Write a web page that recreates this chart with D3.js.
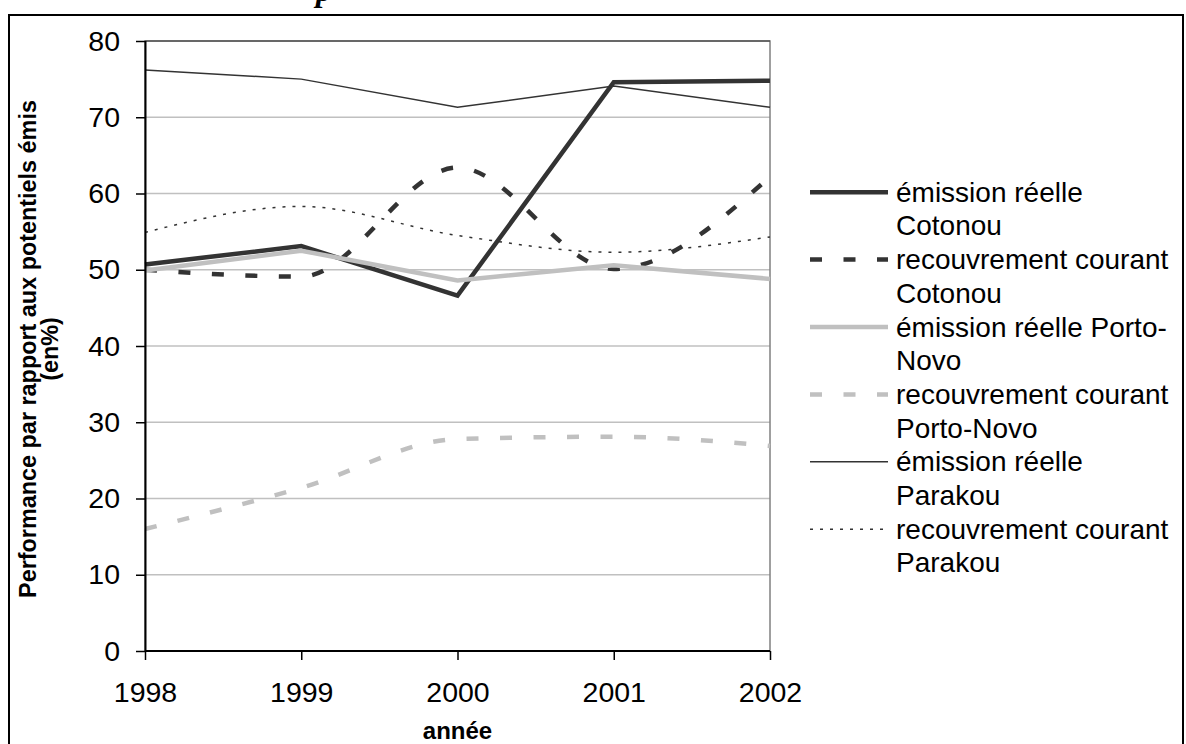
<!DOCTYPE html>
<html>
<head>
<meta charset="utf-8">
<script src="https://cdn.jsdelivr.net/npm/d3@7"></script>
<style>
  html, body { margin: 0; padding: 0; background: #fff; }
  svg { display: block; }
</style>
</head>
<body>
<svg id="chart" width="1186" height="744"></svg>
<script>
// ---- data ----
const years = [1998, 1999, 2000, 2001, 2002];
const cotonouEmission      = [50.7, 53.1, 46.6, 74.6, 74.8];
const cotonouRecouvrement  = [50.0, 49.1, 63.4, 50.1, 62.2];
const portoNovoEmission    = [49.9, 52.5, 48.6, 50.6, 48.8];
const portoNovoRecouvrement= [16.0, 21.4, 27.8, 28.1, 26.9];
const parakouEmission      = [76.2, 75.0, 71.3, 74.1, 71.3];
const parakouRecouvrement  = [54.9, 58.3, 54.5, 52.3, 54.3];
const yTicks = [0, 10, 20, 30, 40, 50, 60, 70, 80];
const legendLabels = [
  ["émission réelle", "Cotonou"],
  ["recouvrement courant", "Cotonou"],
  ["émission réelle Porto-", "Novo"],
  ["recouvrement courant", "Porto-Novo"],
  ["émission réelle", "Parakou"],
  ["recouvrement courant", "Parakou"]
];
const yTitle = ["Performance par rapport aux potentiels émis", "(en%)"];
const xTitle = "année";

// ---- styles per series ----
const DARK = "#333333", LIGHT = "#c0c0c0";
const series = [
  { values: cotonouEmission,       color: DARK,  width: 4.5, dash: null,       smooth: false },
  { values: cotonouRecouvrement,   color: DARK,  width: 4.5, dash: "12,21.5",  smooth: true },
  { values: portoNovoEmission,     color: LIGHT, width: 4.5, dash: null,       smooth: false },
  { values: portoNovoRecouvrement, color: LIGHT, width: 4.5, dash: "12,21.5",  smooth: true },
  { values: parakouEmission,       color: DARK,  width: 1.5, dash: null,       smooth: false },
  { values: parakouRecouvrement,   color: DARK,  width: 1.5, dash: "3,7",      smooth: true }
];
series.forEach((s, i) => s.label = legendLabels[i]);

const svg = d3.select("#chart");
const FONT = "'Liberation Sans', Arial, sans-serif";

// outer frame
svg.append("rect").attr("x", 9).attr("y", 15).attr("width", 1174).attr("height", 760)
  .attr("fill", "none").attr("stroke", "#000").attr("stroke-width", 2);

// heading above the frame, cut off by the page top as in the source (only the descender shows)
svg.append("text").attr("x", 316).attr("y", 1)
  .attr("font-family", "'Liberation Serif', 'Times New Roman', serif")
  .attr("font-style", "italic").attr("font-weight", "bold").attr("font-size", 32)
  .text("p");

const pLeft = 145, pRight = 770, pTop = 41, pBottom = 651;
const x = d3.scaleLinear().domain([1998, 2002]).range([pLeft, pRight]);
const y = d3.scaleLinear().domain([0, 80]).range([pBottom, pTop]);

// gridlines
svg.append("g").selectAll("line").data(yTicks.filter(d => d > 0 && d < 80)).join("line")
  .attr("x1", pLeft).attr("x2", pRight)
  .attr("y1", d => y(d)).attr("y2", d => y(d))
  .attr("stroke", "#c0c0c0").attr("stroke-width", 1.5);

// plot border
svg.append("rect").attr("x", pLeft).attr("y", pTop).attr("width", pRight - pLeft).attr("height", pBottom - pTop)
  .attr("fill", "none").attr("stroke", "#808080").attr("stroke-width", 1.5);
svg.append("line").attr("x1", pLeft).attr("x2", pRight).attr("y1", pTop).attr("y2", pTop)
  .attr("stroke", "#333").attr("stroke-width", 1.2);

// series lines
series.forEach(s => {
  const line = d3.line()
    .x((d, i) => x(years[i]))
    .y(d => y(d))
    .curve(s.smooth ? d3.curveMonotoneX : d3.curveLinear);
  svg.append("path").datum(s.values)
    .attr("d", line)
    .attr("fill", "none")
    .attr("stroke", s.color)
    .attr("stroke-width", s.width)
    .attr("stroke-dasharray", s.dash)
    .attr("stroke-linejoin", "miter")
    .attr("stroke-linecap", "butt");
});

// axes
const yAxis = svg.append("g").attr("transform", `translate(${pLeft},0)`)
  .call(d3.axisLeft(y).tickValues(yTicks).tickSize(9).tickPadding(16).tickFormat(d3.format("d")));
const xAxis = svg.append("g").attr("transform", `translate(0,${pBottom})`)
  .call(d3.axisBottom(x).tickValues(years).tickSize(9).tickPadding(22).tickFormat(d3.format("d")));
[yAxis, xAxis].forEach(g => {
  g.select(".domain").attr("stroke", "#000").attr("stroke-width", 2);
  g.selectAll(".tick line").attr("stroke", "#000").attr("stroke-width", 1.5);
  g.selectAll(".tick text").attr("font-family", FONT).attr("font-size", 28.5).attr("fill", "#000");
});
yAxis.select(".domain").attr("d", `M0.5,${pBottom}V${pTop}`);
xAxis.select(".domain").attr("d", `M${pLeft},0H${pRight}`);

// axis titles
svg.append("text").attr("x", (pLeft + pRight) / 2).attr("y", 739)
  .attr("text-anchor", "middle").attr("font-family", FONT).attr("font-weight", "bold")
  .attr("font-size", 24).text(xTitle);

const yt = svg.append("text").attr("transform", "translate(0,349) rotate(-90)")
  .attr("text-anchor", "middle").attr("font-family", FONT).attr("font-weight", "bold")
  .attr("font-size", 23.4);
yt.append("tspan").attr("x", 0).attr("y", 36).text(yTitle[0]);
yt.append("tspan").attr("x", 0).attr("y", 58).text(yTitle[1]);

// legend
const lg = svg.append("g");
const entryH = 67.4, lineH = 33.7, firstBase = 201.7;
series.forEach((s, i) => {
  const base = firstBase + i * entryH;
  lg.append("line").attr("x1", 810).attr("x2", 888)
    .attr("y1", base - 9.5).attr("y2", base - 9.5)
    .attr("stroke", s.color).attr("stroke-width", s.width)
    .attr("stroke-dasharray", s.dash);
  s.label.forEach((t, j) => {
    lg.append("text").attr("x", 896).attr("y", base + j * lineH)
      .attr("font-family", FONT).attr("font-size", 28).attr("fill", "#000").text(t);
  });
});
</script>
</body>
</html>
